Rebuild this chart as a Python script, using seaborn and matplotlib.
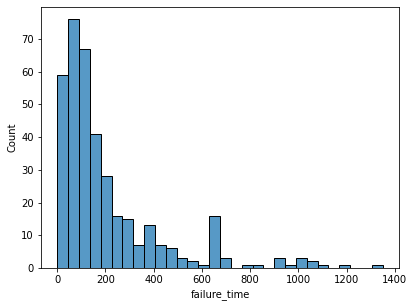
import numpy as np
import pandas as pd
import matplotlib
matplotlib.use("Agg")
import matplotlib.pyplot as plt
import seaborn as sns

bin_width = 45
counts = [59, 76, 67, 41, 28, 16, 15, 7, 13, 7, 6, 3, 2, 1, 16,
          3, 0, 1, 1, 0, 3, 1, 3, 2, 1, 0, 1, 0, 0, 1]
edges = np.arange(len(counts) + 1) * bin_width
centers = (edges[:-1] + edges[1:]) / 2

df = pd.DataFrame({"failure_time": centers, "n": counts})

fig = plt.figure(figsize=(412 / 72, 307 / 72), dpi=72)
ax = fig.add_axes([41 / 412, 1 - 268 / 307, (399 - 41) / 412, (268 - 7) / 307])
sns.histplot(data=df, x="failure_time", weights="n", bins=len(counts),
             binrange=(edges[0], edges[-1]), ax=ax)
ax.set_xlabel("failure_time")
ax.set_ylabel("Count")
fig.savefig("out.png", dpi=72)
